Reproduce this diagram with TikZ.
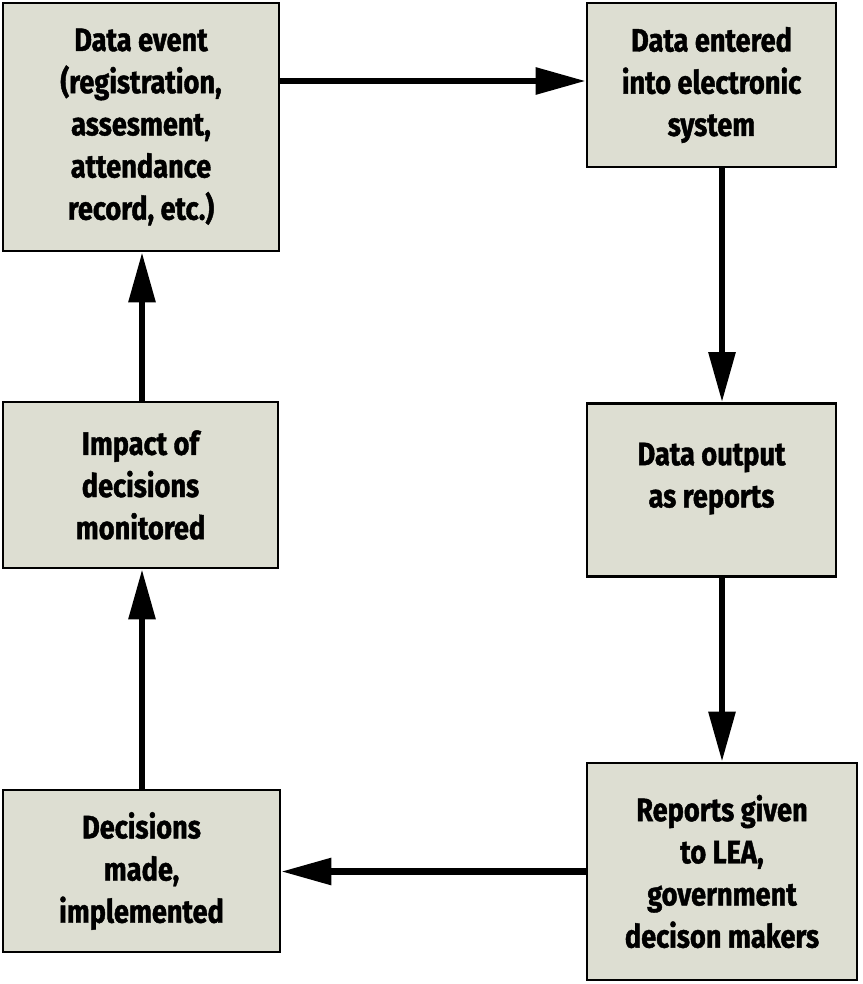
\documentclass[tikz,border=0pt]{standalone}
\usepackage{fontspec}
\newfontfamily\boxfont{Fira Sans}[FakeStretch=0.84,FakeBold=1.3]
\usetikzlibrary{arrows.meta,calc}
\definecolor{boxgray}{RGB}{221,222,210}

\begin{document}
\begin{tikzpicture}[x=0.025cm,y=-0.025cm,
       stepbox/.style={draw=black,line width=2pt,fill=boxgray,inner sep=0pt,
                       align=center,font=\boxfont\bfseries\fontsize{23}{30}\selectfont},
       flow/.style={line width=4.3pt,-{Triangle[length=1.25cm,width=0.65cm]}}]
       \useasboundingbox (0,0) rectangle (862,984);
       \node[stepbox,minimum width=276*0.025cm,minimum height=248*0.025cm] (event) at (141,127)
            {Data event\\(registration,\\assesment,\\attendance\\record, etc.)};
       \node[stepbox,minimum width=249*0.025cm,minimum height=164*0.025cm] (entered) at (711.5,85)
            {Data entered\\into electronic\\system};
       \node[stepbox,minimum width=249*0.025cm,minimum height=173*0.025cm] (output) at (711.5,490)
            {Data output\\as reports\\[-8.7pt]};
       \node[stepbox,minimum width=270*0.025cm,minimum height=217*0.025cm] (reports) at (722,871.5)
            {Reports given\\to LEA,\\government\\decison makers};
       \node[stepbox,minimum width=277*0.025cm,minimum height=162*0.025cm] (decisions) at (141.5,871)
            {Decisions\\made,\\implemented};
       \node[stepbox,minimum width=275*0.025cm,minimum height=166*0.025cm] (impact) at (140.5,485)
            {Impact of\\decisions\\monitored};
       % cycle of arrows
       \draw[flow] (event.east |- 0,81) -- (entered.west |- 0,81);
       \draw[flow] (entered.south -| reports) -- (output.north -| reports);
       \draw[flow] (output.south -| reports) -- (reports.north);
       \draw[flow] (reports.west) -- (decisions.east |- reports.west);
       \draw[flow] (decisions.north -| 142,0) -- (impact.south -| 142,0);
       \draw[flow] (impact.north -| 142,0) -- (event.south -| 142,0);
\end{tikzpicture}
\end{document}
